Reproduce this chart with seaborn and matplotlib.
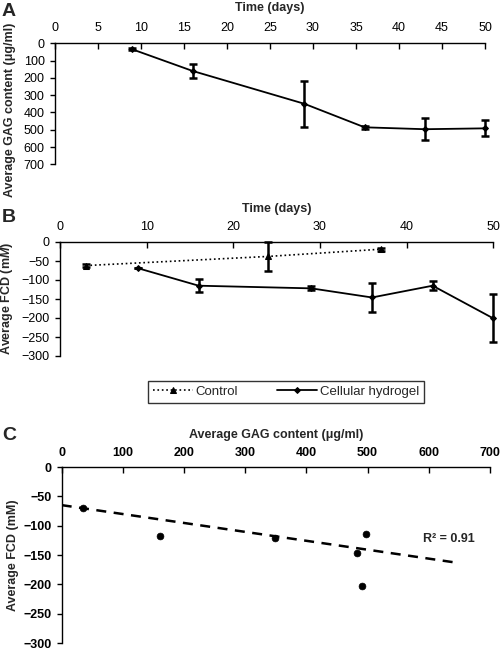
import matplotlib
matplotlib.use("Agg")
import matplotlib.pyplot as plt
import seaborn as sns
import numpy as np

# ---------------- data ----------------
# Panel A: GAG content over time (cellular hydrogel)
a_days = [9, 16, 29, 36, 43, 50]
a_gag = [35, 160, 350, 486, 497, 492]
a_err = [5, 43, 133, 10, 62, 46]

# Panel B: FCD over time
b_ctrl_days = [3, 24, 37]
b_ctrl_fcd = [-62, -38, -19]
b_ctrl_err = [5, 38, 4]
b_cell_days = [9, 16, 29, 36, 43, 50]
b_cell_fcd = [-69, -115, -122, -146, -115, -201]
b_cell_err = [0, 17, 5, 39, 12, 63]

# Panel C: FCD vs GAG
c_gag = [35, 161, 349, 483, 491, 498]
c_fcd = [-70, -118, -121, -147, -203, -115]
trend_x = [0, 650]
trend_intercept = -65.0
trend_slope = -0.152
r2_text = "R\u00b2 = 0.91"

a_xticks = list(range(0, 51, 5))
a_yticks = list(range(0, 701, 100))
b_xticks = list(range(0, 51, 10))
b_yticks = list(range(-300, 1, 50))
c_xticks = list(range(0, 701, 100))
c_yticks = list(range(-300, 1, 50))

# ---------------- style ----------------
sns.set_style("white")
plt.rcParams["font.family"] = ["Liberation Sans", "DejaVu Sans"]
plt.rcParams["mathtext.fontset"] = "custom"
plt.rcParams["mathtext.rm"] = "Liberation Sans:bold"
plt.rcParams["mathtext.it"] = "Liberation Sans:bold:italic"
plt.rcParams["axes.linewidth"] = 1.0

W, H = 500, 649
fig = plt.figure(figsize=(W / 100, H / 100), dpi=100)


def box(l, r, t, b):
    return [l / W, 1 - b / H, (r - l) / W, (b - t) / H]


axA = fig.add_axes(box(55, 485, 43.3, 164.3))
axB = fig.add_axes(box(60, 493.3, 242, 356))
axC = fig.add_axes(box(61.7, 490, 467.0, 643.0))


def style(ax, tick_size, tick_weight="normal", xpad=6.5):
    for s in ["right", "bottom"]:
        ax.spines[s].set_visible(False)
    for s in ["top", "left"]:
        ax.spines[s].set_visible(True)
        ax.spines[s].set_color("k")
        ax.spines[s].set_linewidth(1.0)
    ax.xaxis.tick_top()
    ax.xaxis.set_label_position("top")
    ax.tick_params(axis="x", direction="in", length=4, width=1, pad=xpad,
                   labelsize=tick_size, colors="k")
    ax.tick_params(axis="y", direction="out", length=3.5, width=1, pad=4,
                   labelsize=tick_size, colors="k", left=True)
    for lab in ax.get_xticklabels() + ax.get_yticklabels():
        lab.set_fontweight(tick_weight)
    ax.grid(False)
    ax.set_facecolor("white")


def errbars(ax, x, y, e):
    eb = ax.errorbar(x, y, yerr=e, fmt="none", ecolor="k",
                     elinewidth=1.8, capsize=3, capthick=1.8)
    for art in eb.lines[1] + eb.lines[2]:
        art.set_clip_on(False)


# ---------------- Panel A ----------------
sns.lineplot(x=a_days, y=a_gag, ax=axA, color="k", lw=1.3, marker="D",
             markersize=3, markeredgecolor="k", errorbar=None, sort=False,
             clip_on=False)
errbars(axA, a_days, a_gag, a_err)
axA.set_xlim(0, 50)
axA.set_ylim(700, 0)
axA.set_xticks(a_xticks)
axA.set_yticks(a_yticks)
style(axA, 9)
axA.set_xlabel("Time (days)", fontsize=9, fontweight="bold")
axA.set_ylabel("Average GAG content (\u03bcg/ml)", fontsize=9, fontweight="bold")
axA.xaxis.set_label_coords(0.5, 1.265)
axA.yaxis.set_label_coords(-0.09, 0.45)

# ---------------- Panel B ----------------
sns.lineplot(x=b_ctrl_days, y=b_ctrl_fcd, ax=axB, color="k", lw=1.2,
             linestyle=":", marker="^", markersize=4, markeredgecolor="k",
             errorbar=None, sort=False, label="Control")
errbars(axB, b_ctrl_days, b_ctrl_fcd, b_ctrl_err)
sns.lineplot(x=b_cell_days, y=b_cell_fcd, ax=axB, color="k", lw=1.3,
             marker="D", markersize=3, markeredgecolor="k",
             errorbar=None, sort=False, label="Cellular hydrogel",
             clip_on=False)
errbars(axB, b_cell_days, b_cell_fcd, b_cell_err)
handles, labels = axB.get_legend_handles_labels()
if axB.get_legend() is not None:
    axB.get_legend().remove()
axB.set_xlim(0, 50)
axB.set_ylim(-300, 0)
axB.set_xticks(b_xticks)
axB.set_yticks(b_yticks)
style(axB, 9)
axB.set_xlabel("Time (days)", fontsize=9, fontweight="bold")
axB.set_ylabel("Average FCD (m$\\it{M}$)", fontsize=9, fontweight="bold")
axB.xaxis.set_label_coords(0.5, 1.263)
axB.yaxis.set_label_coords(-0.104, 0.509)

leg = fig.legend(handles, labels, loc="center", bbox_to_anchor=(0.572, 0.396),
                 ncol=2, frameon=True, fancybox=False, edgecolor="k",
                 handlelength=3.0, columnspacing=3.0, borderpad=0.4,
                 fontsize=9.5, handletextpad=0.2)
leg.get_frame().set_linewidth(1.0)

# ---------------- Panel C ----------------
sns.scatterplot(x=c_gag, y=c_fcd, ax=axC, color="k", s=24, edgecolor="k",
                linewidth=0.5)
tx = np.array(trend_x, dtype=float)
sns.lineplot(x=tx, y=trend_intercept + trend_slope * tx, ax=axC, color="k",
             lw=1.8, linestyle=(0, (4, 3)), errorbar=None)
axC.text(590, -122, r2_text, fontsize=9, fontweight="bold", va="center",
         ha="left")
axC.set_xlim(0, 700)
axC.set_ylim(-300, 0)
axC.set_xticks(c_xticks)
axC.set_yticks(c_yticks)
style(axC, 9, "bold", xpad=6)
axC.set_xlabel("Average GAG content (\u03bcg/ml)", fontsize=9, fontweight="bold")
axC.set_ylabel("Average FCD (mM)", fontsize=9, fontweight="bold")
axC.xaxis.set_label_coords(0.5, 1.165)
axC.yaxis.set_label_coords(-0.099, 0.50)

# panel letters
fig.text(2 / W, 1 - 12 / H, "A", fontsize=14, fontweight="bold", va="center", ha="left")
fig.text(2 / W, 1 - 218 / H, "B", fontsize=14, fontweight="bold", va="center", ha="left")
fig.text(2 / W, 1 - 435 / H, "C", fontsize=14, fontweight="bold", va="center", ha="left")

fig.savefig("out.png", dpi=100, facecolor="white")
